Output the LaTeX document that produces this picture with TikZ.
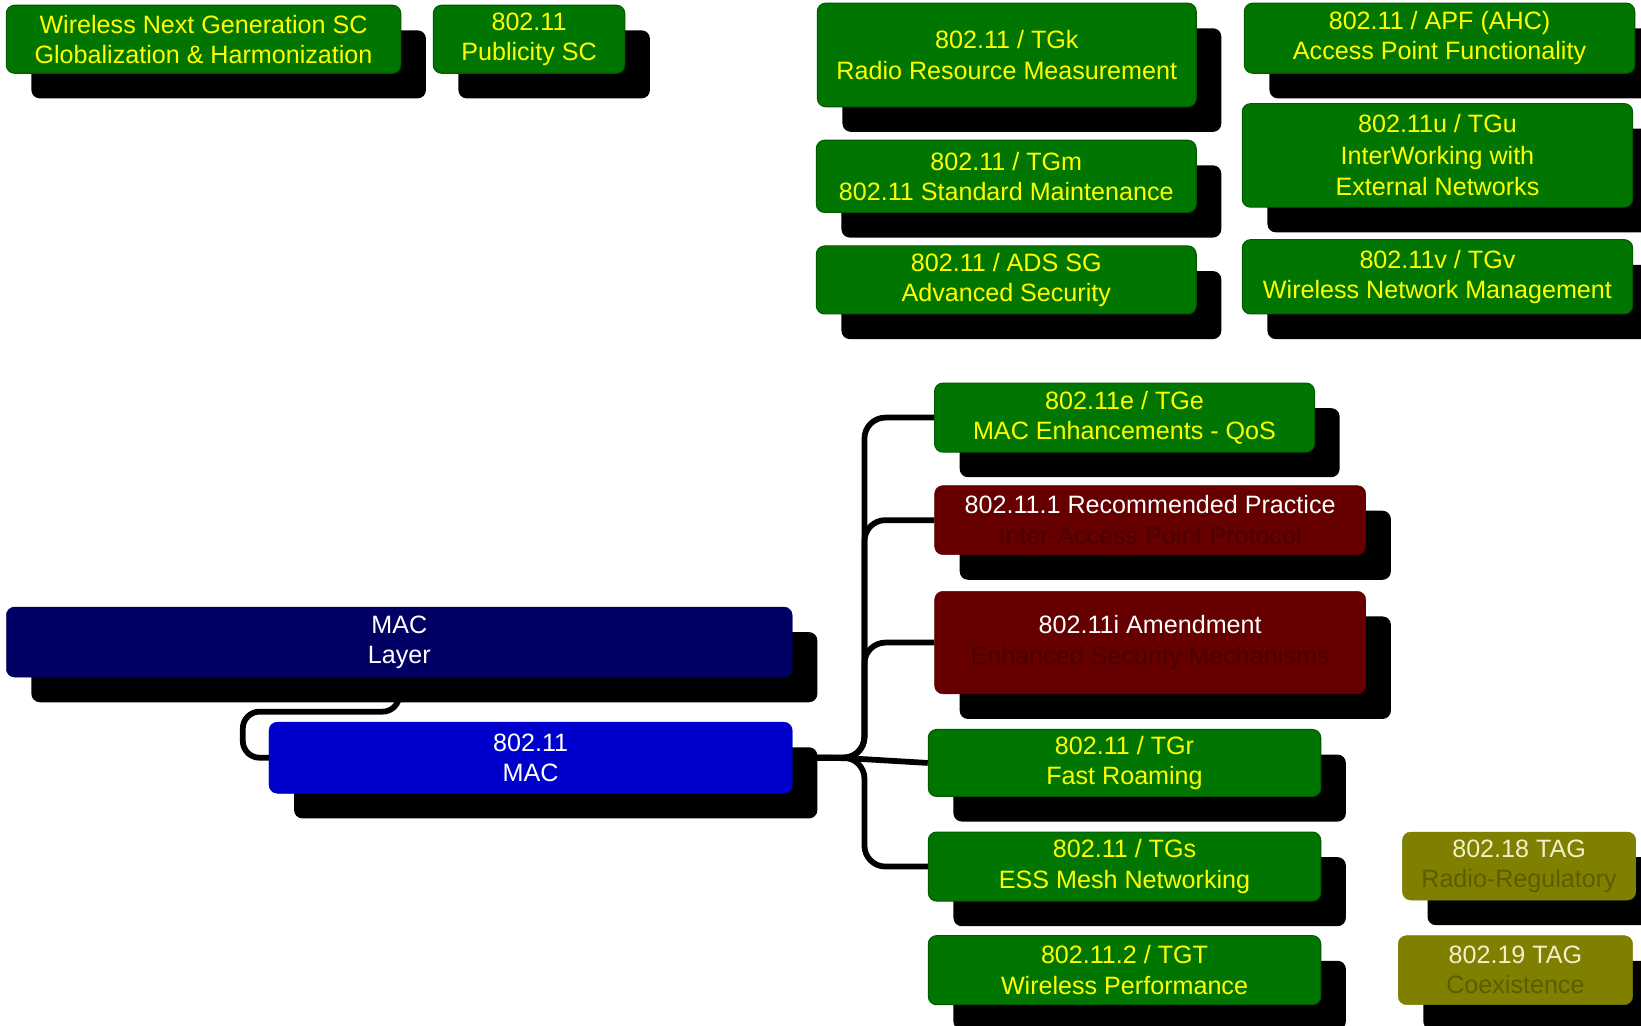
\documentclass[tikz,border=0pt]{standalone}
\usepackage{fontspec}
\setmainfont{Liberation Sans}
\usetikzlibrary{shadows,calc,backgrounds}
\definecolor{gfill}{RGB}{0,118,0}
\definecolor{gedge}{RGB}{0,90,0}
\definecolor{ytext}{RGB}{255,255,0}
\definecolor{navyfill}{RGB}{0,0,100}
\definecolor{bluefill}{RGB}{0,0,205}
\definecolor{rfill}{RGB}{102,0,0}
\definecolor{rtext}{RGB}{75,0,0}
\definecolor{ofill}{RGB}{128,128,0}
\definecolor{otext}{RGB}{92,92,0}
\definecolor{olight}{RGB}{240,240,205}
\tikzset{
  box/.style={rounded corners=8pt, inner sep=0pt, align=center,
    font=\fontsize{24}{29}\selectfont,
    drop shadow={shadow xshift=24pt, shadow yshift=-24pt, fill=black, opacity=1}},
  gbox/.style={box, fill=gfill, draw=gedge, line width=1pt, text=ytext},
  navybox/.style={box, fill=navyfill, draw=navyfill, text=white},
  bluebox/.style={box, fill=bluefill, draw=bluefill, text=white},
  redbox/.style={box, fill=rfill, draw=rfill},
  olivebox/.style={box, fill=ofill, draw=ofill},
  conn/.style={draw=black, line width=5.5pt, rounded corners=20pt}
}
\begin{document}
\begin{tikzpicture}[x=1pt,y=-1pt]
\useasboundingbox (0,0) rectangle (1568,980);
% top-left
\node[gbox, minimum width=377pt, minimum height=65pt] (wng) at (194.5,37.5) {Wireless Next Generation SC\\Globalization \& Harmonization};
\node[gbox, minimum width=183pt, minimum height=65pt] (pub) at (505.5,37.5) {802.11\\Publicity SC};
% top-right grid
\node[gbox, minimum width=362pt, minimum height=99pt] (tgk) at (962,52.5) {802.11 / TGk\\Radio Resource Measurement};
\node[gbox, minimum width=373pt, minimum height=67pt] (apf) at (1375.5,36.5) {802.11 / APF (AHC)\\Access Point Functionality};
\node[gbox, minimum width=363pt, minimum height=69pt] (tgm) at (961.5,168.5) {802.11 / TGm\\802.11 Standard Maintenance};
\node[gbox, minimum width=373pt, minimum height=99pt, font=\fontsize{24}{30}\selectfont] (tgu) at (1373.5,148.5) {802.11u / TGu\\InterWorking with\\External Networks};
\node[gbox, minimum width=363pt, minimum height=65pt] (ads) at (961.5,267.5) {802.11 / ADS SG\\Advanced Security};
\node[gbox, minimum width=373pt, minimum height=71pt] (tgv) at (1373.5,264.5) {802.11v / TGv\\Wireless Network Management};
% tree
\node[gbox, minimum width=363pt, minimum height=66pt] (tge) at (1074.5,399) {802.11e / TGe\\MAC Enhancements - QoS};
\node[redbox, minimum width=412pt, minimum height=66pt] (iapp) at (1099,497) {\textcolor{white}{802.11.1 Recommended Practice}\\\textcolor{rtext}{Inter-Access Point Protocol}};
\node[redbox, minimum width=412pt, minimum height=98pt] (tgi) at (1099,614) {\textcolor{white}{802.11i Amendment}\\\textcolor{rtext}{Enhanced Security Mechanisms}};
\node[gbox, minimum width=375pt, minimum height=64pt] (tgr) at (1074.5,729) {802.11 / TGr\\Fast Roaming};
\node[gbox, minimum width=375pt, minimum height=66pt] (tgs) at (1074.5,828) {802.11 / TGs\\ESS Mesh Networking};
\node[gbox, minimum width=375pt, minimum height=66pt] (tgt) at (1074.5,927) {802.11.2 / TGT\\Wireless Performance};
\node[olivebox, minimum width=223pt, minimum height=65pt] (tag18) at (1451.5,827.5) {\textcolor{olight}{802.18 TAG}\\\textcolor{otext}{Radio-Regulatory}};
\node[olivebox, minimum width=224pt, minimum height=66pt] (tag19) at (1448,927) {\textcolor{olight}{802.19 TAG}\\\textcolor{otext}{Coexistence}};
% MAC
\node[navybox, minimum width=751pt, minimum height=67pt] (maclayer) at (381.5,613.5) {MAC\\Layer};
\node[bluebox, minimum width=500pt, minimum height=68pt] (mac) at (507,724) {802.11\\MAC};
% connectors
\coordinate (lbend) at (232,680);
\coordinate (trunk) at (826,0);
\begin{scope}[on background layer]
\fill[white] (0,0) rectangle (1568,980);
\draw[conn, rounded corners=16pt] (maclayer.south) |- (lbend) |- (mac.west);
\draw[conn] (mac.east) -| (tge.west -| trunk) -- (tge.west);
\draw[conn] (mac.east) -| (iapp.west -| trunk) -- (iapp.west);
\draw[conn] (mac.east) -| (tgi.west -| trunk) -- (tgi.west);
\draw[conn] (mac.east) -- ($(mac.east)+(45,0)$) -- (tgr.west);
\draw[conn] (mac.east) -| (tgs.west -| trunk) -- (tgs.west);
\end{scope}
\end{tikzpicture}
\end{document}
